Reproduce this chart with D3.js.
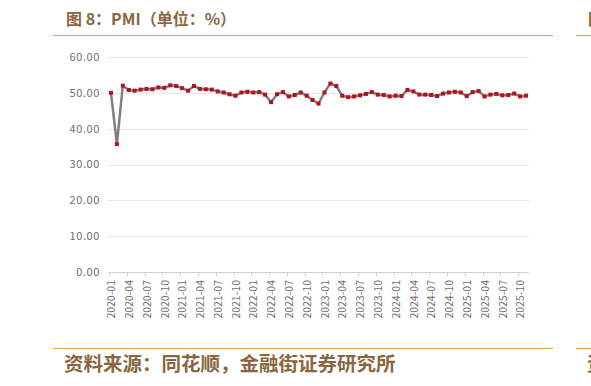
<!DOCTYPE html>
<html>
<head>
<meta charset="utf-8">
<script src="https://cdn.jsdelivr.net/npm/d3@7"></script>
<style>
  body { margin: 0; background: #fff; overflow: hidden; }
  svg { display: block; }
</style>
</head>
<body>
<script>
// Monthly PMI, 2020-01 .. 2025-11
const years = [2020, 2021, 2022, 2023, 2024, 2025];
const pmi2020 = [50.0, 35.7, 52.0, 50.8, 50.6, 50.9, 51.1, 51.0, 51.5, 51.4, 52.1, 51.9];
const pmi2021 = [51.3, 50.6, 51.9, 51.1, 51.0, 50.9, 50.4, 50.1, 49.6, 49.2, 50.1, 50.3];
const pmi2022 = [50.1, 50.2, 49.5, 47.4, 49.6, 50.2, 49.0, 49.4, 50.1, 49.2, 48.0, 47.0];
const pmi2023 = [50.1, 52.6, 51.9, 49.2, 48.8, 49.0, 49.3, 49.7, 50.2, 49.5, 49.4, 49.0];
const pmi2024 = [49.2, 49.1, 50.8, 50.4, 49.5, 49.5, 49.4, 49.1, 49.8, 50.1, 50.3, 50.1];
const pmi2025 = [49.1, 50.2, 50.5, 49.0, 49.5, 49.7, 49.3, 49.4, 49.8, 49.0, 49.2];
const yTicks = [0, 10, 20, 30, 40, 50, 60];

const byYear = [pmi2020, pmi2021, pmi2022, pmi2023, pmi2024, pmi2025];
const data = [];
byYear.forEach((vals, yi) => {
  vals.forEach((v, mi) => {
    data.push({ month: `${years[yi]}-${String(mi + 1).padStart(2, "0")}`, value: v });
  });
});
const months = data.map(d => d.month);

const W = 591, H = 386;
const brown = "#8a6640";
const rule = "#d9a550";
const cjk = "'Noto Sans CJK SC', sans-serif";

const svg = d3.select("body").append("svg")
  .attr("width", W)
  .attr("height", H);

// Header rules and title
svg.append("line").attr("x1", 53).attr("x2", 553).attr("y1", 35.5).attr("y2", 35.5)
  .attr("stroke", rule).attr("stroke-width", 1.2);
svg.append("line").attr("x1", 576).attr("x2", 591).attr("y1", 35.5).attr("y2", 35.5)
  .attr("stroke", rule).attr("stroke-width", 1.2);
svg.append("text")
  .attr("x", 66).attr("y", 25)
  .attr("fill", brown)
  .style("font-family", cjk)
  .style("font-size", "16px")
  .style("font-weight", "bold")
  .text("图 8：PMI（单位：%）");
// edge of the neighbouring panel's title
svg.append("text")
  .attr("x", 588).attr("y", 25)
  .attr("fill", brown)
  .style("font-family", cjk)
  .style("font-size", "16px")
  .style("font-weight", "bold")
  .text("图");

// Footer rules and source
svg.append("line").attr("x1", 53).attr("x2", 553).attr("y1", 348.5).attr("y2", 348.5)
  .attr("stroke", rule).attr("stroke-width", 1.2);
svg.append("line").attr("x1", 576).attr("x2", 591).attr("y1", 348.5).attr("y2", 348.5)
  .attr("stroke", rule).attr("stroke-width", 1.2);
svg.append("text")
  .attr("x", 64).attr("y", 371)
  .attr("fill", brown)
  .style("font-family", cjk)
  .style("font-size", "19.5px")
  .style("font-weight", "bold")
  .text("资料来源：同花顺，金融街证券研究所");
svg.append("text")
  .attr("x", 587).attr("y", 371)
  .attr("fill", brown)
  .style("font-family", cjk)
  .style("font-size", "19.5px")
  .style("font-weight", "bold")
  .text("资");

// Scales
const pl = 108, pr = 529, pt = 57, pb = 272;
const x = d3.scaleBand().domain(months).range([pl, pr]);
const y = d3.scaleLinear().domain([0, 60]).range([pb, pt]);
const cx = d => x(d) + x.bandwidth() / 2;

// Grid
svg.append("g").selectAll("line")
  .data(yTicks.filter(t => t > 0))
  .join("line")
  .attr("x1", pl).attr("x2", pr)
  .attr("y1", d => Math.round(y(d)) + 0.5).attr("y2", d => Math.round(y(d)) + 0.5)
  .attr("stroke", "#e6e6e6");

// Y labels
svg.append("g").selectAll("text")
  .data(yTicks)
  .join("text")
  .attr("x", 100)
  .attr("y", d => y(d))
  .attr("dy", "0.35em")
  .attr("text-anchor", "end")
  .attr("fill", "#707070")
  .style("font-family", cjk)
  .style("font-size", "11px")
  .style("letter-spacing", "0.6px")
  .text(d => d3.format(".2f")(d));

// X axis
svg.append("line")
  .attr("x1", pl).attr("x2", pr)
  .attr("y1", pb + 0.5).attr("y2", pb + 0.5)
  .attr("stroke", "#d0d0d0");
const tickMonths = months.filter((m, i) => i % 3 === 0);
svg.append("g").selectAll("line")
  .data(tickMonths)
  .join("line")
  .attr("x1", d => Math.round(x(d)) + 1.5).attr("x2", d => Math.round(x(d)) + 1.5)
  .attr("y1", pb).attr("y2", pb + 4)
  .attr("stroke", "#d0d0d0");
svg.append("g").selectAll("text")
  .data(tickMonths)
  .join("text")
  .attr("transform", d => `translate(${cx(d) + 0.5},${pb + 8}) rotate(-90)`)
  .attr("text-anchor", "end")
  .attr("dy", "0.35em")
  .attr("fill", "#707070")
  .style("font-family", cjk)
  .style("font-size", "10.5px")
  .text(d => d);

// Line
svg.append("path")
  .datum(data)
  .attr("fill", "none")
  .attr("stroke", "#808080")
  .attr("stroke-width", 2.5)
  .attr("stroke-linejoin", "round")
  .attr("d", d3.line().x(d => cx(d.month)).y(d => y(d.value)));

// Markers
svg.append("g").selectAll("rect")
  .data(data)
  .join("rect")
  .attr("x", d => cx(d.month) - 2)
  .attr("y", d => y(d.value) - 2)
  .attr("width", 4)
  .attr("height", 4)
  .attr("fill", "#b5121b");
</script>
</body>
</html>
